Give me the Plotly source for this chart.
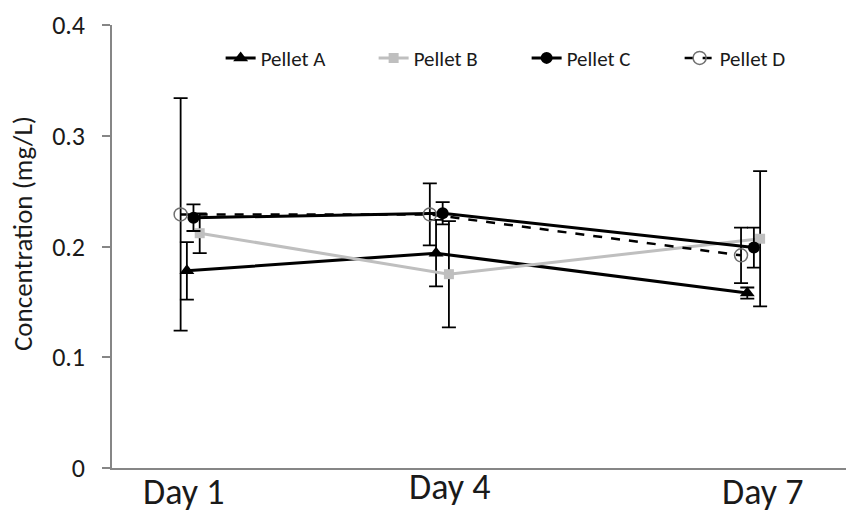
import plotly.graph_objects as go

# Sampling days and measured concentrations (mg/L), mean and error
days = ["Day 1", "Day 4", "Day 7"]
pellet_a = [0.178, 0.194, 0.158]
pellet_a_err = [0.026, 0.030, 0.005]
pellet_b = [0.212, 0.175, 0.207]
pellet_b_err = [0.018, 0.048, 0.061]
pellet_c = [0.226, 0.230, 0.199]
pellet_c_err = [0.012, 0.010, 0.018]
pellet_d = [0.229, 0.229, 0.192]
pellet_d_err = [0.105, 0.028, 0.025]
y_ticks = [0, 0.1, 0.2, 0.3, 0.4]

# Where each day sits on the horizontal axis, and small per-series dodges
day_pos = [1.065, 4.46, 8.70]
label_shift = [-0.085, 0.14, 0.16]
label_bottom = [-0.1061, -0.095, -0.1061]

FONT = "Carlito, 'Liberation Sans Narrow', 'Open Sans', sans-serif"
TEXT = "#1a1a1a"

series = [
    dict(name="Pellet A", y=pellet_a, err=pellet_a_err, dodge=-0.045,
         line=dict(color="black", width=3),
         marker=dict(symbol="triangle-up", size=13, color="black")),
    dict(name="Pellet B", y=pellet_b, err=pellet_b_err, dodge=0.13,
         line=dict(color="#bfbfbf", width=3),
         marker=dict(symbol="square", size=10, color="#bfbfbf")),
    dict(name="Pellet C", y=pellet_c, err=pellet_c_err, dodge=0.045,
         line=dict(color="black", width=3),
         marker=dict(symbol="circle", size=12, color="black")),
    dict(name="Pellet D", y=pellet_d, err=pellet_d_err, dodge=-0.13,
         line=dict(color="black", width=2.5, dash="dash"),
         marker=dict(symbol="circle-open", size=13, color="#707070",
                     line=dict(width=1.5, color="#707070"))),
]

fig = go.Figure()
for s in series:
    fig.add_trace(go.Scatter(
        x=[p + s["dodge"] for p in day_pos],
        y=s["y"],
        name=s["name"],
        mode="lines+markers",
        line=s["line"],
        marker=s["marker"],
        error_y=dict(type="data", array=s["err"], visible=True,
                     color="black", thickness=1.8, width=7),
    ))

for d, p, sh, yb in zip(days, day_pos, label_shift, label_bottom):
    fig.add_annotation(x=p + sh, xref="x", y=yb, yref="paper",
                       text=d, showarrow=False, borderpad=0,
                       font=dict(family=FONT, size=36, color=TEXT),
                       xanchor="center", yanchor="bottom")

fig.add_annotation(x=-0.1226, xref="paper", y=0.528, yref="paper",
                   text="Concentration (mg/L)", textangle=-90,
                   showarrow=False, xanchor="center", yanchor="middle",
                   font=dict(family=FONT, size=27, color=TEXT))

fig.update_layout(
    width=846, height=515,
    margin=dict(l=112, r=0, t=25, b=47),
    paper_bgcolor="white", plot_bgcolor="white",
    showlegend=True,
    legend=dict(orientation="h", x=0.148, y=0.925, xanchor="left",
                yanchor="middle", bgcolor="rgba(0,0,0,0)",
                font=dict(family=FONT, size=21, color=TEXT),
                entrywidth=108, itemwidth=30, tracegroupgap=0),
    xaxis=dict(range=[0, 10], showline=True, linecolor="#868686",
               linewidth=1.5, showgrid=False, zeroline=False,
               showticklabels=False, ticks=""),
    yaxis=dict(range=[0, 0.4], tickvals=y_ticks, showline=True,
               linecolor="#868686", linewidth=1.5, showgrid=False,
               zeroline=False, ticks="outside", ticklen=8,
               tickcolor="#868686", tickwidth=1.5, ticklabelstandoff=12,
               tickfont=dict(family=FONT, size=26, color=TEXT)),
)

fig.write_html("out.html")
